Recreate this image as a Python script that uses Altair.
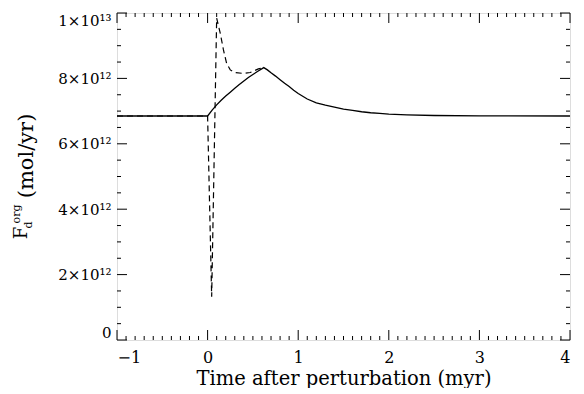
import altair as alt
import pandas as pd

# Values in units of 1e12 mol/yr
solid_t = [-1.0, 0.0, 0.05, 0.1, 0.15, 0.2, 0.25, 0.3, 0.35, 0.4, 0.45, 0.5, 0.55, 0.62,
           0.66, 0.70, 0.75, 0.80, 0.85, 0.90, 0.95, 1.0, 1.1, 1.2, 1.3, 1.4, 1.5, 1.6,
           1.7, 1.8, 1.9, 2.0, 2.2, 2.5, 3.0, 4.0]
solid_v = [6.85, 6.85, 7.03, 7.19, 7.33, 7.46, 7.58, 7.70, 7.81, 7.92, 8.03, 8.12, 8.21, 8.33,
           8.26, 8.17, 8.07, 7.96, 7.85, 7.75, 7.64, 7.54, 7.37, 7.25, 7.18, 7.12, 7.06, 7.02,
           6.98, 6.95, 6.93, 6.91, 6.885, 6.865, 6.855, 6.85]

dash_t = [-1.0, 0.0, 0.045, 0.10, 0.14, 0.175, 0.21, 0.25, 0.30, 0.40, 0.47, 0.56, 0.62]
dash_v = [6.85, 6.85, 1.32, 9.84, 9.38, 8.87, 8.46, 8.26, 8.18, 8.15, 8.18, 8.29, 8.33]

x_major = [-1, 0, 1, 2, 3, 4]
x_minor = [round(-1 + i * 0.1, 1) for i in range(51) if i % 10 != 0]
y_major = [0, 2, 4, 6, 8, 10]
y_minor = [i * 0.5 for i in range(21) if i % 4 != 0]

W, H = 453, 327
XD = [-1, 4]
YD = [0, 10]

solid = pd.DataFrame({"t": solid_t, "v": solid_v})
dashed = pd.DataFrame({"t": dash_t, "v": dash_v})

xs = alt.Scale(domain=XD, nice=False, zero=False)
ys = alt.Scale(domain=YD, nice=False, zero=False)

FONT = "DejaVu Serif"

x_axis = alt.Axis(values=x_major, ticks=False, domain=False, grid=False,
                  labelFont=FONT, labelFontSize=16, labelColor="black", labelPadding=9,
                  title="Time after perturbation (myr)", titleFont=FONT, titleFontSize=19.5,
                  titleFontWeight="normal", titleColor="black", titlePadding=4)
y_axis = alt.Axis(values=y_major, ticks=False, domain=False, grid=False,
                  labelFont=FONT, labelFontSize=15, labelColor="black", labelPadding=6,
                  labelFlush=True,
                  labelExpr="datum.value == 0 ? '0' : (datum.value == 10 ? '1×10¹³' : datum.value + '×10¹²')",
                  title=None)

X = alt.X("t:Q", scale=xs, axis=x_axis)
Y = alt.Y("v:Q", scale=ys, axis=y_axis)

dash_layer = alt.Chart(dashed).mark_line(color="black", strokeWidth=1.2, strokeDash=[6, 4]).encode(
    x=X, y=Y, order="index:Q",
).transform_window(index="row_number()")

solid_layer = alt.Chart(solid).mark_line(color="black", strokeWidth=1.3).encode(x=X, y=Y)

def xticks(vals, length, top):
    df = pd.DataFrame({"t": vals})
    if top:
        y0, y1 = 0, length
    else:
        y0, y1 = H, H - length
    return alt.Chart(df).mark_rule(color="black", strokeWidth=1).encode(
        x=X, y=alt.value(y0), y2=alt.value(y1))

def yticks(vals, length, right):
    df = pd.DataFrame({"v": vals})
    if right:
        x0, x1 = W, W - length
    else:
        x0, x1 = 0, length
    return alt.Chart(df).mark_rule(color="black", strokeWidth=1).encode(
        y=Y, x=alt.value(x0), x2=alt.value(x1))

tick_layers = [
    xticks(x_major, 10, False), xticks(x_minor, 4, False),
    xticks(x_major, 10, True), xticks(x_minor, 4, True),
    yticks(y_major, 10, False), yticks(y_minor, 4, False),
    yticks(y_major, 10, True), yticks(y_minor, 4, True),
]

lab = pd.DataFrame({"a": [0]})
def ytext(txt, x, y, size, align="center"):
    return alt.Chart(lab).mark_text(text=txt, angle=270, font=FONT, fontSize=size,
                                    color="black", align=align, baseline="alphabetic").encode(
        x=alt.value(x), y=alt.value(y))

title_layers = [
    ytext("(mol/yr)", -84, 143, 21),
    ytext("F", -90, 220, 18),
    ytext("org", -97, 201, 11),
    ytext("d", -85, 212, 11),
]

chart = alt.layer(dash_layer, solid_layer, *tick_layers, *title_layers).properties(
    width=W, height=H,
    autosize=alt.AutoSizeParams(type="none"),
    padding={"left": 109, "top": 5, "right": 6, "bottom": 48},
).configure_view(stroke="black", strokeWidth=1).configure(background="white")

chart.save("out.html", embed_options={"renderer": "svg", "actions": False})
